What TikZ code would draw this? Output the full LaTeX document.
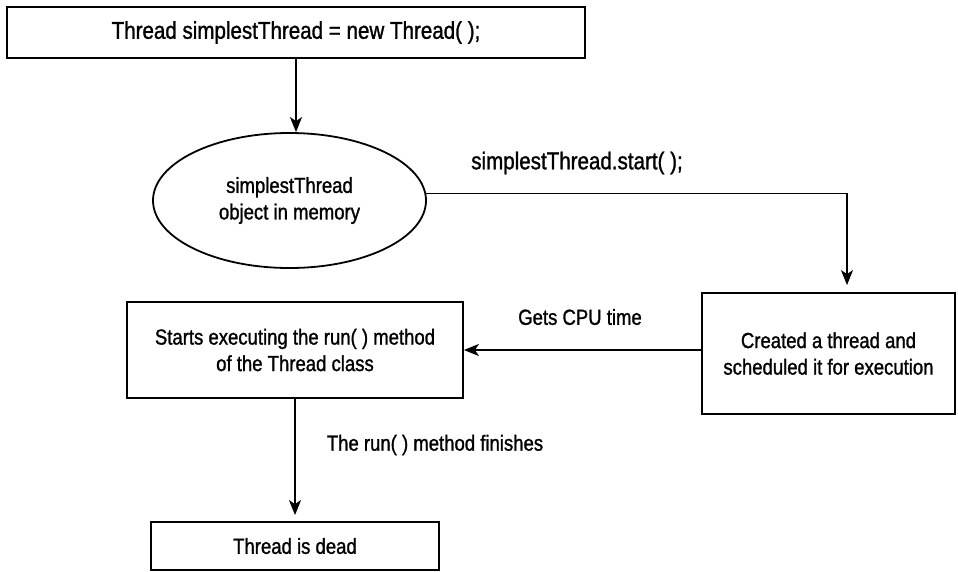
\documentclass[tikz,border=0pt]{standalone}
\usepackage{fontspec}
\setmainfont[FakeStretch=0.85,FakeBold=1.2]{Liberation Sans}
\usetikzlibrary{shapes.geometric,arrows.meta}
\begin{document}
\begin{tikzpicture}[x=1pt,y=-1pt,
  bodyfont/.style={font={\fontsize{21.8}{26.5}\selectfont}},
  bigfont/.style={font={\fontsize{24.2}{29}\selectfont}},
  box/.style={draw, line width=1.8pt, inner sep=0pt, align=center, bodyfont},
  oval/.style={draw, ellipse, line width=1.8pt, inner sep=0pt, align=center, bodyfont},
  lbl/.style={inner sep=0pt, align=center, bodyfont},
  conn/.style={line width=1.6pt, -{Stealth[length=15pt,width=12pt,inset=4pt]}}]
\useasboundingbox (0,0) rectangle (958,571);
\fill[white] (0,0) rectangle (958,571);

\node[box, bigfont, minimum width=578pt, minimum height=51pt] (top) at (296,32.5) {Thread simplestThread = new Thread( );};
\node[oval, minimum width=273pt, minimum height=135pt] (ell) at (289.5,200.5) {simplestThread\\object in memory};
\node[box, minimum width=253pt, minimum height=121pt] (right) at (828.5,353.5) {Created a thread and\\scheduled it for execution};
\node[box, minimum width=336pt, minimum height=96pt] (left) at (295,350) {Starts executing the run( ) method\\of the Thread class};
\node[box, minimum width=288pt, minimum height=48pt] (dead) at (295,546) {Thread is dead};

\node[lbl, bigfont] (startlbl) at (577,163) {simplestThread.start( );};
\node[lbl] (cpulbl) at (580,317) {Gets CPU time};
\node[lbl] (finlbl) at (435,445) {The run( ) method finishes};

\draw[conn] (top.south) -- (top.south |- ell.north);
\draw[conn, shorten >=7pt] (ell.3) -| ([xshift=18.5pt]right.north);
\draw[conn] (right.west |- left.east) -- (left.east);
\draw[conn, shorten >=6pt] (left.south) -- (dead.north);
\end{tikzpicture}
\end{document}
